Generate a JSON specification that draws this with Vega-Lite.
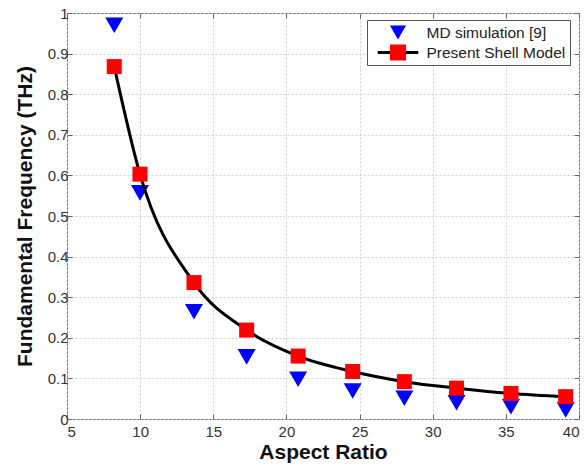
{
  "$schema": "https://vega.github.io/schema/vega-lite/v6.json",
  "width": 512,
  "height": 406,
  "autosize": {"type": "none"},
  "padding": {"left": 67, "top": 13, "right": 8, "bottom": 49},
  "background": "white",
  "config": {
    "view": {"stroke": "#666666", "strokeWidth": 1},
    "font": "Liberation Sans"
  },
  "data": {
    "values": [
      {"ar": 8.23, "freq": 0.970, "series": "MD simulation [9]"},
      {"ar": 9.99, "freq": 0.557, "series": "MD simulation [9]"},
      {"ar": 13.68, "freq": 0.264, "series": "MD simulation [9]"},
      {"ar": 17.28, "freq": 0.153, "series": "MD simulation [9]"},
      {"ar": 20.8, "freq": 0.098, "series": "MD simulation [9]"},
      {"ar": 24.53, "freq": 0.069, "series": "MD simulation [9]"},
      {"ar": 28.06, "freq": 0.051, "series": "MD simulation [9]"},
      {"ar": 31.63, "freq": 0.040, "series": "MD simulation [9]"},
      {"ar": 35.35, "freq": 0.030, "series": "MD simulation [9]"},
      {"ar": 39.09, "freq": 0.022, "series": "MD simulation [9]"},
      {"ar": 8.23, "freq": 0.868, "series": "Present Shell Model"},
      {"ar": 9.99, "freq": 0.603, "series": "Present Shell Model"},
      {"ar": 13.68, "freq": 0.336, "series": "Present Shell Model"},
      {"ar": 17.28, "freq": 0.219, "series": "Present Shell Model"},
      {"ar": 20.8, "freq": 0.155, "series": "Present Shell Model"},
      {"ar": 24.53, "freq": 0.117, "series": "Present Shell Model"},
      {"ar": 28.06, "freq": 0.092, "series": "Present Shell Model"},
      {"ar": 31.63, "freq": 0.076, "series": "Present Shell Model"},
      {"ar": 35.35, "freq": 0.063, "series": "Present Shell Model"},
      {"ar": 39.09, "freq": 0.055, "series": "Present Shell Model"}
    ]
  },
  "resolve": {"axis": {"x": "independent", "y": "independent"}},
  "layer": [
    {
      "transform": [{"filter": "datum.series === 'MD simulation [9]'"}],
      "mark": {"type": "point", "filled": true, "size": 324, "strokeWidth": 0, "opacity": 1},
      "encoding": {
        "x": {
          "field": "ar", "type": "quantitative",
          "scale": {"domain": [5, 40], "nice": false, "zero": false},
          "axis": {
            "orient": "bottom", "values": [5, 10, 15, 20, 25, 30, 35, 40],
            "title": "Aspect Ratio", "titleFontSize": 21, "titleFontWeight": "bold", "titleColor": "#111111", "titlePadding": 2,
            "labelFontSize": 15, "labelColor": "#333333", "labelPadding": 10,
            "tickSize": -5, "tickColor": "#666666", "domain": false,
            "grid": true, "gridColor": "#d0d0d0", "gridDash": [2, 2]
          }
        },
        "y": {
          "field": "freq", "type": "quantitative",
          "scale": {"domain": [0, 1], "nice": false},
          "axis": {
            "orient": "left", "values": [0, 0.1, 0.2, 0.3, 0.4, 0.5, 0.6, 0.7, 0.8, 0.9, 1], "format": "~g",
            "title": "Fundamental Frequency (THz)", "titleFontSize": 21, "titleFontWeight": "bold", "titleColor": "#111111", "titlePadding": 12,
            "labelFontSize": 15, "labelColor": "#333333", "labelPadding": 4,
            "tickSize": -5, "tickColor": "#666666", "domain": false,
            "grid": true, "gridColor": "#d0d0d0", "gridDash": [2, 2]
          }
        },
        "shape": {
          "field": "series", "type": "nominal",
          "scale": {"range": ["triangle-down", "square"]},
          "legend": {
            "title": null, "orient": "none", "legendX": 300, "legendY": 7,
            "symbolSize": 260, "symbolStrokeWidth": 0, "symbolOffset": 18.5, "labelOffset": 20,
            "padding": 4, "rowPadding": 3, "clipHeight": 17,
            "labelFontSize": 15.5, "labelColor": "#222222", "labelFont": "Liberation Sans", "zindex": 2
          }
        },
        "fill": {
          "field": "series", "type": "nominal",
          "scale": {"range": ["#0000ff", "#ff0000"]},
          "legend": {
            "title": null, "orient": "none", "legendX": 300, "legendY": 7,
            "symbolSize": 260, "symbolStrokeWidth": 0, "symbolOffset": 18.5, "labelOffset": 20,
            "padding": 4, "rowPadding": 3, "clipHeight": 17,
            "labelFontSize": 15.5, "labelColor": "#222222", "labelFont": "Liberation Sans", "zindex": 2
          }
        }
      }
    },
    {
      "transform": [{"filter": "datum.series === 'Present Shell Model'"}],
      "mark": {"type": "line", "strokeWidth": 3, "interpolate": "monotone"},
      "encoding": {
        "x": {
          "field": "ar", "type": "quantitative",
          "axis": {"orient": "top", "values": [5, 10, 15, 20, 25, 30, 35, 40], "labels": false, "title": null, "grid": false, "domain": false, "tickSize": -5, "tickColor": "#666666"}
        },
        "y": {
          "field": "freq", "type": "quantitative",
          "axis": {"orient": "right", "values": [0, 0.1, 0.2, 0.3, 0.4, 0.5, 0.6, 0.7, 0.8, 0.9, 1], "labels": false, "title": null, "grid": false, "domain": false, "tickSize": -5, "tickColor": "#666666"}
        },
        "stroke": {
          "field": "series", "type": "nominal",
          "scale": {"domain": ["MD simulation [9]", "Present Shell Model"], "range": ["rgba(0,0,0,0)", "#000000"]},
          "legend": {
            "title": null, "orient": "none", "legendX": 300, "legendY": 7,
            "symbolType": "M-2.9,0H2.9", "symbolSize": 196, "symbolStrokeWidth": 3, "symbolOffset": 18.5, "labelOffset": 20,
            "padding": 4, "rowPadding": 3, "clipHeight": 17,
            "labelFontSize": 15.5, "labelColor": "rgba(0,0,0,0)", "labelFont": "Liberation Sans",
            "strokeColor": "#555555", "fillColor": "#ffffff", "zindex": 1
          }
        }
      }
    },
    {
      "transform": [{"filter": "datum.series === 'Present Shell Model'"}],
      "mark": {"type": "point", "filled": true, "size": 225, "strokeWidth": 0, "opacity": 1},
      "encoding": {
        "x": {"field": "ar", "type": "quantitative", "axis": null},
        "y": {"field": "freq", "type": "quantitative", "axis": null},
        "shape": {"field": "series", "type": "nominal"},
        "fill": {"field": "series", "type": "nominal"}
      }
    }
  ]
}
